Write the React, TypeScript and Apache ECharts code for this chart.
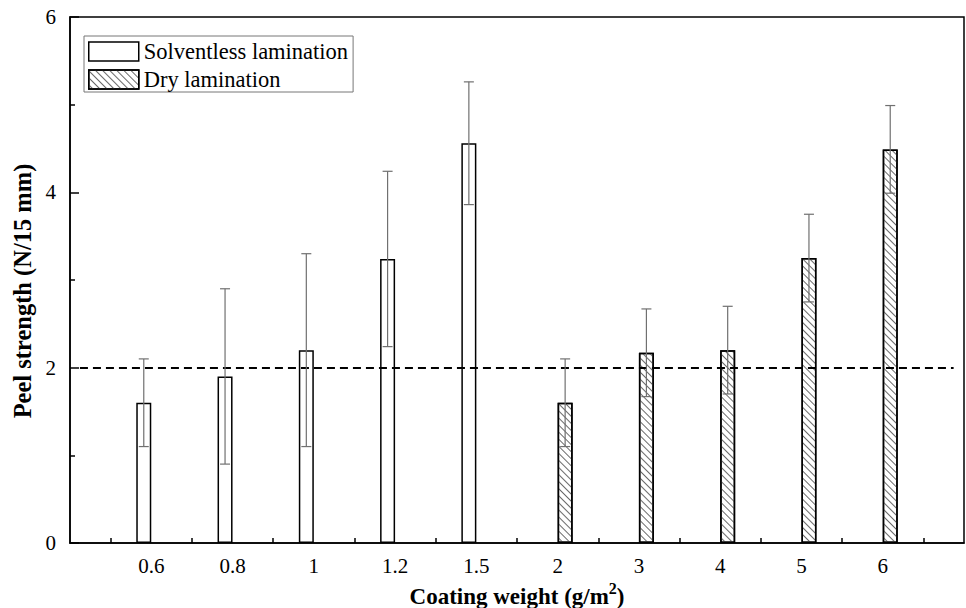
import React, { useEffect, useRef } from 'react';
import * as echarts from 'echarts';

const solventlessWeights = ['0.6', '0.8', '1', '1.2', '1.5'];
const solventlessStrength = [1.6, 1.9, 2.2, 3.24, 4.56];
const solventlessError = [0.5, 1.0, 1.1, 1.0, 0.7];

const dryWeights = ['2', '3', '4', '5', '6'];
const dryStrength = [1.6, 2.17, 2.2, 3.25, 4.49];
const dryError = [0.5, 0.5, 0.5, 0.5, 0.5];

const xTickLabels = [...solventlessWeights, ...dryWeights];
const yMin = 0;
const yMax = 6;
const yInterval = 2;
const referenceLevel = 2;

const FONT = '"Liberation Serif", "Times New Roman", serif';
const BAR_W = 15;
const CAP_W = 10;

const pos = (w: string) => xTickLabels.indexOf(w) + 1;

const makeErrorSeries = (weights: string[], values: number[], errors: number[], shift: number) => ({
  type: 'custom',
  silent: true,
  z: 5,
  data: weights.map((w, i) => [pos(w), values[i] - errors[i], values[i] + errors[i]]),
  renderItem: (params: any, api: any) => {
    const lo = api.coord([api.value(0), api.value(1)]);
    const hi = api.coord([api.value(0), api.value(2)]);
    const x = lo[0] + shift;
    const hw = CAP_W / 2;
    const style = { stroke: '#707070', lineWidth: 1.2 };
    return {
      type: 'group',
      children: [
        { type: 'line', shape: { x1: x, y1: hi[1], x2: x, y2: lo[1] }, style },
        { type: 'line', shape: { x1: x - hw, y1: hi[1], x2: x + hw, y2: hi[1] }, style },
        { type: 'line', shape: { x1: x - hw, y1: lo[1], x2: x + hw, y2: lo[1] }, style },
      ],
    };
  },
});

export default function App() {
  const ref = useRef<HTMLDivElement>(null);

  useEffect(() => {
    if (!ref.current) return;
    const chart = echarts.init(ref.current, null, { renderer: 'svg' });
    const hatch = {
      symbol: 'rect',
      symbolSize: 1,
      dashArrayX: [1, 0],
      dashArrayY: [1, 3.5],
      rotation: Math.PI / 4,
      color: '#6a6a6a',
      backgroundColor: '#fff',
    };
    chart.setOption({
      animation: false,
      backgroundColor: '#fff',
      textStyle: { fontFamily: FONT, color: '#000' },
      grid: {
        left: 70,
        right: 2,
        top: 17,
        bottom: 65,
        outerBoundsMode: 'none',
        containLabel: false,
        show: true,
        borderColor: '#000',
        borderWidth: 1.5,
        backgroundColor: 'transparent',
      },
      legend: {
        orient: 'vertical',
        left: 84,
        top: 36,
        data: ['Solventless lamination', 'Dry lamination'],
        icon: 'rect',
        itemWidth: 50,
        itemHeight: 19,
        itemGap: 5,
        padding: [4, 5, 1, 4],
        borderColor: '#777',
        borderWidth: 1,
        textStyle: { fontSize: 22.5, fontFamily: FONT, color: '#000' },
        itemStyle: { borderColor: '#000', borderWidth: 1.5 },
      },
      xAxis: {
        type: 'value',
        min: 0,
        max: xTickLabels.length + 1,
        interval: 1,
        name: 'Coating weight (g/m{sup|2})',
        nameLocation: 'middle',
        nameGap: 28,
        nameTextStyle: {
          fontFamily: FONT,
          fontSize: 23,
          fontWeight: 'bold',
          color: '#000',
          rich: {
            sup: {
              fontFamily: FONT,
              fontSize: 16,
              fontWeight: 'bold',
              color: '#000',
              padding: [0, 0, 16, 0],
            },
          },
        },
        splitLine: { show: false },
        axisLine: { lineStyle: { color: '#000', width: 1.5 } },
        axisTick: { show: false, inside: true },
        minorTick: { show: true, splitNumber: 2, length: 5, lineStyle: { color: '#000', width: 1.5 } },
        axisLabel: {
          fontFamily: FONT,
          fontSize: 21,
          color: '#000',
          margin: 12,
          formatter: (v: number) => (v >= 1 && v <= xTickLabels.length ? xTickLabels[Math.round(v) - 1] : ''),
        },
      },
      yAxis: {
        type: 'value',
        min: yMin,
        max: yMax,
        interval: yInterval,
        name: 'Peel strength (N/15 mm)',
        nameLocation: 'middle',
        nameGap: 34,
        nameTextStyle: {
          fontFamily: FONT,
          fontSize: 24.5,
          fontWeight: 'bold',
          color: '#000',
          padding: [0, 22, 0, 0],
        },
        splitLine: { show: false },
        axisLine: { lineStyle: { color: '#000', width: 1.5 } },
        axisTick: { inside: true, length: 9, lineStyle: { color: '#000', width: 1.5 } },
        minorTick: { show: true, splitNumber: 2, length: 5, lineStyle: { color: '#000', width: 1.5 } },
        axisLabel: { fontFamily: FONT, fontSize: 21, color: '#000', margin: 14 },
      },
      series: [
        {
          name: 'Solventless lamination',
          type: 'bar',
          barWidth: BAR_W,
          barGap: '0%',
          data: solventlessWeights.map((w, i) => [pos(w), solventlessStrength[i]]),
          itemStyle: { color: '#fff', borderColor: '#000', borderWidth: 1.5 },
        },
        {
          name: 'Dry lamination',
          type: 'bar',
          barWidth: BAR_W,
          barGap: '0%',
          data: dryWeights.map((w, i) => [pos(w), dryStrength[i]]),
          itemStyle: { color: '#fff', borderColor: '#000', borderWidth: 1.5, decal: hatch },
          markLine: {
            silent: true,
            symbol: 'none',
            label: { show: false },
            lineStyle: { color: '#000', type: [8, 5], width: 2 },
            data: [[{ coord: [0.03, referenceLevel] }, { coord: [10.78, referenceLevel] }]],
          },
        },
        makeErrorSeries(solventlessWeights, solventlessStrength, solventlessError, -BAR_W / 2),
        makeErrorSeries(dryWeights, dryStrength, dryError, BAR_W / 2),
      ],
    });
    return () => chart.dispose();
  }, []);

  return (
    <div
      ref={ref}
      style={{ position: 'fixed', left: 0, top: 0, width: 966, height: 608, background: '#fff' }}
    />
  );
}
